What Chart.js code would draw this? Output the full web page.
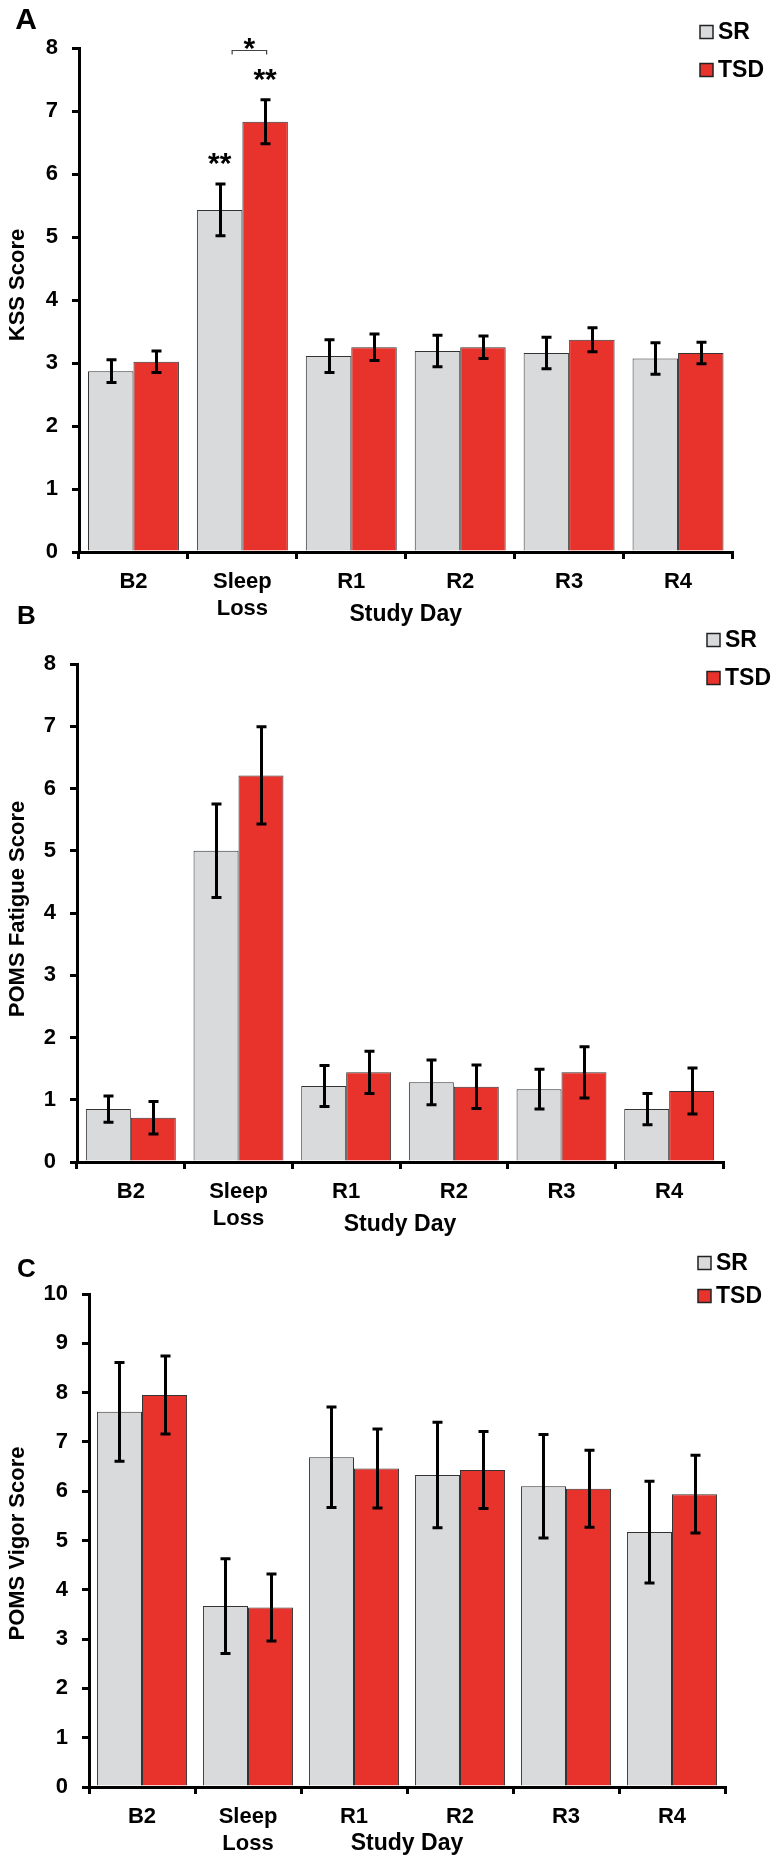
<!DOCTYPE html>
<html>
<head>
<meta charset="utf-8">
<script src="https://cdn.jsdelivr.net/npm/chart.js@4.4.1/dist/chart.umd.min.js"></script>
<style>
html,body{margin:0;padding:0;background:#ffffff;}
#wrap{position:relative;width:776px;height:1862px;overflow:hidden;background:#ffffff;}
#wrap canvas{position:absolute;left:0;}
</style>
</head>
<body>
<div id="wrap">
  <canvas id="cA" width="776" height="640" style="top:0px"></canvas>
  <canvas id="cB" width="776" height="650" style="top:596px"></canvas>
  <canvas id="cC" width="776" height="616" style="top:1246px"></canvas>
</div>
<script>
// ---------- DATA ----------
const categories = ['B2', ['Sleep', 'Loss'], 'R1', 'R2', 'R3', 'R4'];
const seriesNames = ['SR', 'TSD'];

// Panel A: KSS Score (mean, SEM)
const kssSR     = [2.87, 5.43, 3.11, 3.19, 3.16, 3.07];
const kssSRErr  = [0.18, 0.41, 0.26, 0.25, 0.25, 0.25];
const kssTSD    = [3.02, 6.83, 3.25, 3.25, 3.37, 3.16];
const kssTSDErr = [0.17, 0.35, 0.21, 0.18, 0.19, 0.17];

// Panel B: POMS Fatigue Score
const fatSR     = [0.85, 5.00, 1.22, 1.28, 1.17, 0.85];
const fatSRErr  = [0.21, 0.75, 0.33, 0.36, 0.32, 0.25];
const fatTSD    = [0.71, 6.21, 1.44, 1.21, 1.44, 1.14];
const fatTSDErr = [0.26, 0.78, 0.34, 0.35, 0.41, 0.37];

// Panel C: POMS Vigor Score
const vigSR     = [7.61, 3.67, 6.69, 6.33, 6.10, 5.17];
const vigSRErr  = [1.00, 0.96, 1.02, 1.07, 1.05, 1.03];
const vigTSD    = [7.95, 3.64, 6.46, 6.43, 6.05, 5.94];
const vigTSDErr = [0.79, 0.68, 0.80, 0.78, 0.78, 0.79];

// Significance annotations (panel A)
const kssStars = [
  { category: 1, series: 0, text: '**' },
  { category: 1, series: 1, text: '**' }
];
const kssBracket = { category: 1, text: '*' };

// ---------- STYLE ----------
const FONT = '"Liberation Sans", Arial, Helvetica, sans-serif';
const COLORS = ['#d9dadc', '#e8332d'];
Chart.defaults.font.family = FONT;
Chart.defaults.font.weight = 'bold';
Chart.defaults.color = '#000';

const errorBarPlugin = {
  id: 'errorBars',
  afterDatasetsDraw(chart) {
    const ctx = chart.ctx, ys = chart.scales.y;
    chart.data.datasets.forEach((ds, i) => {
      const meta = chart.getDatasetMeta(i);
      meta.data.forEach((bar, j) => {
        const v = ds.data[j], e = ds.errors[j];
        const x = Math.round(bar.x) + 0.5;
        const yt = ys.getPixelForValue(v + e), yb = ys.getPixelForValue(v - e);
        ctx.save();
        ctx.strokeStyle = '#000';
        ctx.lineWidth = 3;
        ctx.beginPath();
        ctx.moveTo(x, yt); ctx.lineTo(x, yb);
        ctx.moveTo(x - 5, yt); ctx.lineTo(x + 5, yt);
        ctx.moveTo(x - 5, yb); ctx.lineTo(x + 5, yb);
        ctx.stroke();
        ctx.restore();
      });
    });
  }
};

const decorPlugin = {
  id: 'decor',
  afterDraw(chart, args, o) {
    const ctx = chart.ctx;
    const ys = chart.scales.y;
    ctx.save();
    ctx.fillStyle = '#000';
    ctx.textAlign = 'center';
    ctx.textBaseline = 'middle';
    // panel letter
    ctx.font = 'bold ' + o.letterSize + 'px ' + FONT;
    ctx.fillText(o.letter, o.letterX, o.letterY);
    // y-axis title
    ctx.save();
    ctx.font = 'bold 22px ' + FONT;
    ctx.translate(17.5, (ys.top + ys.bottom) / 2 + o.yTitleShift);
    ctx.rotate(-Math.PI / 2);
    ctx.fillText(o.yTitle, 0, 0);
    ctx.restore();
    // legend
    ctx.font = 'bold 23px ' + FONT;
    ctx.textAlign = 'left';
    chart.data.datasets.forEach((ds, i) => {
      const y = o.legendY[i];
      ctx.fillStyle = ds.backgroundColor;
      ctx.fillRect(o.legendX, y - 6.5, 13, 13);
      ctx.strokeStyle = '#222';
      ctx.lineWidth = 1.5;
      ctx.strokeRect(o.legendX, y - 6.5, 13, 13);
      ctx.fillStyle = '#000';
      ctx.fillText(ds.label, o.legendX + 18, y + 1);
    });
    // significance marks
    if (o.stars) {
      ctx.font = 'bold 30px ' + FONT;
      ctx.textAlign = 'center';
      o.stars.forEach(s => {
        const ds = chart.data.datasets[s.series];
        const bar = chart.getDatasetMeta(s.series).data[s.category];
        const yt = ys.getPixelForValue(ds.data[s.category] + ds.errors[s.category]);
        ctx.fillText(s.text, bar.x, yt - 19);
      });
    }
    if (o.bracket) {
      const b0 = chart.getDatasetMeta(0).data[o.bracket.category];
      const b1 = chart.getDatasetMeta(1).data[o.bracket.category];
      const x1 = b0.x + 12.5, x2 = b1.x + 1.5;
      const y = chart.chartArea.top + 2.5;
      ctx.strokeStyle = '#444';
      ctx.lineWidth = 1.2;
      ctx.beginPath();
      ctx.moveTo(x1, y + 4); ctx.lineTo(x1, y); ctx.lineTo(x2, y); ctx.lineTo(x2, y + 4);
      ctx.stroke();
      ctx.fillStyle = '#000';
      ctx.font = 'bold 30px ' + FONT;
      ctx.fillText(o.bracket.text, (x1 + x2) / 2, y - 1);
    }
    ctx.restore();
  }
};

function makeChart(id, cfg) {
  const datasets = [
    { label: seriesNames[0], data: cfg.sr, errors: cfg.srErr, backgroundColor: COLORS[0] },
    { label: seriesNames[1], data: cfg.tsd, errors: cfg.tsdErr, backgroundColor: COLORS[1] }
  ].map(d => Object.assign(d, {
    borderColor: '#333', borderWidth: 1, borderSkipped: 'bottom',
    barPercentage: 1.0, categoryPercentage: cfg.catPct
  }));
  return new Chart(document.getElementById(id), {
    type: 'bar',
    data: { labels: categories, datasets },
    options: {
      responsive: false,
      animation: false,
      devicePixelRatio: 1,
      layout: { padding: cfg.padding },
      plugins: {
        legend: { display: false },
        tooltip: { enabled: false },
        decor: cfg.decor
      },
      scales: {
        x: {
          type: 'category',
          offset: true,
          border: { display: true, color: '#000', width: 3 },
          grid: { display: true, offset: true, drawOnChartArea: false, drawTicks: true,
                  tickLength: 7, tickWidth: 3, tickColor: '#000', lineWidth: 3, color: '#000' },
          ticks: { color: '#000', padding: 10, maxRotation: 0, autoSkip: false,
                   font: { size: 22, weight: 'bold', family: FONT, lineHeight: 1.2 } },
          title: { display: true, text: 'Study Day', color: '#000',
                   font: { size: 23, weight: 'bold', family: FONT, lineHeight: 1.2 },
                   padding: { top: 0, bottom: 0 } },
          afterFit: s => { s.height = cfg.xHeight; }
        },
        y: {
          min: 0, max: cfg.yMax,
          border: { display: true, color: '#000', width: 3 },
          grid: { display: true, drawOnChartArea: false, drawTicks: true,
                  tickLength: 7, tickWidth: 3, tickColor: '#000', lineWidth: 3, color: '#000' },
          ticks: { stepSize: 1, color: '#000', padding: 14,
                   font: { size: 22, weight: 'bold', family: FONT } },
          title: { display: false, text: cfg.decor.yTitle },
          afterFit: s => { s.width = cfg.yWidth; }
        }
      }
    },
    plugins: [errorBarPlugin, decorPlugin]
  });
}

makeChart('cA', {
  sr: kssSR, srErr: kssSRErr, tsd: kssTSD, tsdErr: kssTSDErr,
  yMax: 8, catPct: 0.835,
  padding: { left: 0, top: 48, right: 43.5, bottom: 11.2 },
  yWidth: 79, xHeight: 76.8,
  decor: { letter: 'A', letterSize: 30, letterX: 26, letterY: 21,
           yTitle: 'KSS Score', yTitleShift: -15,
           legendX: 700, legendY: [32, 70], stars: kssStars, bracket: kssBracket }
});

makeChart('cB', {
  sr: fatSR, srErr: fatSRErr, tsd: fatTSD, tsdErr: fatTSDErr,
  yMax: 8, catPct: 0.835,
  padding: { left: 0, top: 68, right: 53, bottom: 7.2 },
  yWidth: 77, xHeight: 76.8,
  decor: { letter: 'B', letterSize: 26, letterX: 26.5, letterY: 21,
           yTitle: 'POMS Fatigue Score', yTitleShift: -4,
           legendX: 707, legendY: [44, 82] }
});

makeChart('cC', {
  sr: vigSR, srErr: vigSRErr, tsd: vigTSD, tsdErr: vigTSDErr,
  yMax: 10, catPct: 0.85,
  padding: { left: 0, top: 48, right: 51, bottom: 4.2 },
  yWidth: 89, xHeight: 70.8,
  decor: { letter: 'C', letterSize: 26, letterX: 26.5, letterY: 24,
           yTitle: 'POMS Vigor Score', yTitleShift: 3,
           legendX: 698, legendY: [17, 50] }
});
</script>
</body>
</html>
